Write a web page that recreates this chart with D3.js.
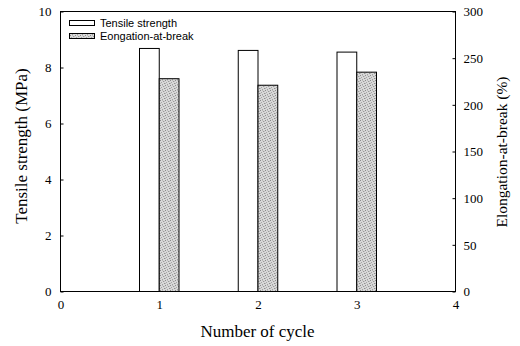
<!DOCTYPE html>
<html><head><meta charset="utf-8">
<script src="https://cdn.jsdelivr.net/npm/d3@7"></script>
<style>body{margin:0;background:#fff}svg{display:block}</style>
</head><body>
<svg id="c" width="520" height="346"></svg>
<script>
const cycles = [1, 2, 3];
const tensile = [8.68, 8.61, 8.55];
const elongation = [228, 221, 235];
const xTicks = [0, 1, 2, 3, 4];
const yLeftTicks = [0, 2, 4, 6, 8, 10];
const yRightTicks = [0, 50, 100, 150, 200, 250, 300];
const seriesNames = ["Tensile strength", "Eongation-at-break"];

const svg = d3.select("#c");
const L = 60, R = 455, T = 11, B = 291;
const x = d3.scaleLinear().domain([0, 4]).range([L, R]);
const yL = d3.scaleLinear().domain([0, 10]).range([B, T]);
const yR = d3.scaleLinear().domain([0, 300]).range([B, T]);

const defs = svg.append("defs");
const pat = defs.append("pattern").attr("id", "stip").attr("width", 5).attr("height", 5)
  .attr("patternUnits", "userSpaceOnUse");
pat.append("rect").attr("width", 5).attr("height", 5).attr("fill", "#d8d8d8");
[[0,0,"#8a8a8a"],[3,1,"#9a9a9a"],[1,2,"#a5a5a5"],[4,3,"#8f8f8f"],[2,4,"#a0a0a0"],[2,0,"#bdbdbd"],[0,3,"#b5b5b5"],[4,1,"#c0c0c0"]]
  .forEach(([px, py, c]) => pat.append("rect").attr("x", px).attr("y", py).attr("width", 1).attr("height", 1).attr("fill", c));

const bw = 0.2;
svg.append("g").selectAll("rect").data(cycles).join("rect")
  .attr("x", (d) => x(d - bw) + 0.5)
  .attr("y", (d, i) => yL(tensile[i]) + 0.5)
  .attr("width", (d) => x(d) - x(d - bw))
  .attr("height", (d, i) => B - yL(tensile[i]))
  .attr("fill", "#fff").attr("stroke", "#000").attr("stroke-width", 1);

svg.append("g").selectAll("rect").data(cycles).join("rect")
  .attr("x", (d) => x(d) + 0.5)
  .attr("y", (d, i) => yR(elongation[i]) + 0.5)
  .attr("width", (d) => x(d + bw) - x(d))
  .attr("height", (d, i) => B - yR(elongation[i]))
  .attr("fill", "url(#stip)").attr("stroke", "#000").attr("stroke-width", 1);

// frame
svg.append("rect").attr("x", L + 0.5).attr("y", T + 0.5).attr("width", R - L).attr("height", B - T)
  .attr("fill", "none").attr("stroke", "#000").attr("stroke-width", 1);

const serif = "'Liberation Serif','Times New Roman',serif";

function styleAxis(g) {
  g.select(".domain").remove();
  g.attr("font-family", serif).attr("font-size", 13);
  g.selectAll("text").attr("font-family", serif).attr("font-size", 13).attr("fill", "#000");
}

const axL = svg.append("g").attr("transform", `translate(${L + 0.5},0.5)`)
  .call(d3.axisLeft(yL).tickValues(yLeftTicks).tickSizeInner(-3).tickSizeOuter(0).tickPadding(9).tickFormat(d3.format("d")));
styleAxis(axL);

const axR = svg.append("g").attr("transform", `translate(${R + 0.5},0.5)`)
  .call(d3.axisRight(yR).tickValues(yRightTicks).tickSizeInner(-3).tickSizeOuter(0).tickPadding(8).tickFormat(d3.format("d")));
styleAxis(axR);

const axB = svg.append("g").attr("transform", `translate(0.5,${B + 0.5})`)
  .call(d3.axisBottom(x).tickValues(xTicks).tickSize(0).tickPadding(8).tickFormat(d3.format("d")));
styleAxis(axB);

svg.append("text").attr("x", (L + R) / 2).attr("y", 337).attr("text-anchor", "middle")
  .attr("font-family", serif).attr("font-size", 17).text("Number of cycle");
svg.append("text").attr("transform", `translate(27,146) rotate(-90)`).attr("text-anchor", "middle")
  .attr("font-family", serif).attr("font-size", 17).text("Tensile strength (MPa)");
svg.append("text").attr("transform", `translate(507,152) rotate(-90)`).attr("text-anchor", "middle")
  .attr("font-family", serif).attr("font-size", 15.5).text("Elongation-at-break (%)");

// legend
const fills = ["#fff", "url(#stip)"];
const lg = svg.append("g");
seriesNames.forEach((n, i) => {
  const yy = 20 + i * 13;
  lg.append("rect").attr("x", 69.5).attr("y", yy + 0.5).attr("width", 25).attr("height", 5)
    .attr("fill", fills[i]).attr("stroke", "#000").attr("stroke-width", 1);
  lg.append("text").attr("x", 100).attr("y", yy + 7).attr("font-family", "'Liberation Sans',Arial,sans-serif")
    .attr("font-size", 11).text(n);
});
</script>
</body></html>
